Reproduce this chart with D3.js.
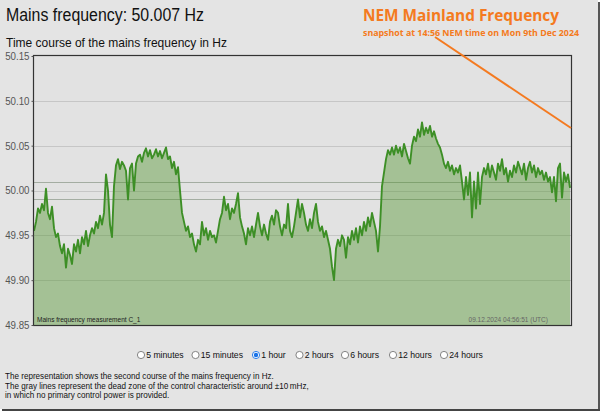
<!DOCTYPE html>
<html><head><meta charset="utf-8">
<script src="https://cdn.jsdelivr.net/npm/d3@7"></script>
<style>
html,body{margin:0;padding:0;background:#fff;}
svg{display:block;}
</style></head>
<body>
<svg id="c" width="604" height="414"></svg>
<script>
// ---- data ----
const title = "Mains frequency: 50.007 Hz";
const subtitle = "Time course of the mains frequency in Hz";
const yTicks = [49.85, 49.90, 49.95, 50.00, 50.05, 50.10, 50.15];
const deadZone = [49.99, 50.01];
const seriesLabel = "Mains frequency measurement C_1";
const timeStamp = "09.12.2024 04:56:51 (UTC)";
const periods = ["5 minutes", "15 minutes", "1 hour", "2 hours", "6 hours", "12 hours", "24 hours"];
const selectedPeriod = "1 hour";
const notes = [
  "The representation shows the second course of the mains frequency in Hz.",
  "The gray lines represent the dead zone of the control characteristic around \u00b110\u2009mHz,",
  "in which no primary control power is provided."
];
const annoTitle = "NEM Mainland Frequency";
const annoSub = "snapshot at 14:56 NEM time on Mon 9th Dec 2024";
const frequency = [
49.955,49.965,49.980,49.975,49.985,49.978,50.002,49.975,49.968,49.982,
49.958,49.948,49.952,49.938,49.930,49.940,49.914,49.935,49.928,49.918,
49.940,49.932,49.945,49.930,49.948,49.940,49.955,49.938,49.950,49.958,
49.952,49.965,49.958,49.972,49.962,49.975,50.018,50.000,49.962,49.948,
50.005,50.028,50.035,50.024,50.032,50.028,50.022,49.990,50.025,50.030,
50.000,50.030,50.038,50.040,50.032,50.042,50.047,50.038,50.045,50.036,
50.040,50.046,50.038,50.044,50.036,50.042,50.048,50.035,50.038,50.025,
50.032,50.018,50.026,50.000,49.975,49.965,49.955,49.960,49.948,49.952,
49.940,49.932,49.945,49.940,49.965,49.950,49.958,49.945,49.955,49.948,
49.950,49.942,49.955,49.968,49.975,49.993,49.978,49.985,49.968,49.980,
49.975,49.985,49.997,49.970,49.960,49.952,49.940,49.958,49.950,49.960,
49.948,49.962,49.975,49.960,49.950,49.962,49.952,49.945,49.965,49.972,
49.962,49.978,49.975,49.960,49.950,49.962,49.958,49.985,49.955,49.948,
49.960,49.975,49.990,49.970,49.985,49.975,49.962,49.955,49.968,49.958,
49.975,49.985,49.965,49.955,49.960,49.948,49.955,49.945,49.935,49.915,
49.900,49.935,49.945,49.938,49.950,49.945,49.925,49.948,49.940,49.955,
49.945,49.958,49.942,49.960,49.950,49.965,49.955,49.970,49.960,49.975,
49.965,49.955,49.932,49.960,50.005,50.020,50.035,50.045,50.040,50.048,
50.040,50.050,50.042,50.048,50.038,50.052,50.044,50.036,50.030,50.050,
50.060,50.055,50.068,50.060,50.076,50.062,50.070,50.064,50.072,50.060,
50.066,50.058,50.052,50.048,50.040,50.030,50.025,50.032,50.022,50.028,
50.018,50.025,50.020,50.028,50.010,49.990,50.015,49.995,50.020,49.970,
50.010,49.980,50.020,49.985,50.015,50.025,50.018,50.030,50.015,50.028,
50.020,50.012,50.030,50.022,50.035,50.018,50.025,50.010,50.022,50.015,
50.028,50.020,50.032,50.025,50.018,50.030,50.012,50.025,50.032,50.020,
50.028,50.015,50.025,50.018,50.022,50.012,50.020,50.010,50.015,49.998,
50.015,49.988,50.025,50.030,49.992,50.020,50.010,50.018,50.003
];

// ---- drawing ----
const svg = d3.select("#c");
const W = 604, H = 414;
const plot = {l: 34, r: 571, t: 56, b: 325};
const FONT = "Liberation Sans, Arial, sans-serif";

function squeeze(sel, k) {
  sel.each(function () {
    const w = this.getComputedTextLength();
    d3.select(this).attr("textLength", w * k).attr("lengthAdjust", "spacingAndGlyphs");
  });
  return sel;
}

// page background with frame shadow
svg.append("rect").attr("x",0).attr("y",0).attr("width",W).attr("height",H).attr("fill","#ffffff");
svg.append("rect").attr("x",0).attr("y",0).attr("width",598).attr("height",409).attr("fill","#e4e4e4");
svg.append("rect").attr("x",598).attr("y",2).attr("width",2).attr("height",409).attr("fill","#555");
svg.append("rect").attr("x",2).attr("y",409).attr("width",598).attr("height",2).attr("fill","#444");

svg.append("text").attr("x",6).attr("y",21).attr("font-family",FONT)
  .attr("font-size",17.5).attr("fill","#111")
  .attr("textLength",198).attr("lengthAdjust","spacingAndGlyphs").text(title);
svg.append("text").attr("x",6).attr("y",46.5).attr("font-family",FONT)
  .attr("font-size",12.8).attr("fill","#111")
  .attr("textLength",221).attr("lengthAdjust","spacingAndGlyphs").text(subtitle);

const x = d3.scaleLinear().domain([0, frequency.length - 1]).range([plot.l, plot.r - 1]);
const y = d3.scaleLinear().domain([49.85, 50.15]).range([plot.b, plot.t]);

// plot background
svg.append("rect").attr("x",plot.l).attr("y",plot.t).attr("width",plot.r-plot.l).attr("height",plot.b-plot.t)
  .attr("fill","#e2e2e2");

// grid
const grid = svg.append("g");
grid.selectAll("line.g").data(yTicks.slice(1,-1)).join("line")
  .attr("x1",plot.l).attr("x2",plot.r).attr("y1",d=>Math.round(y(d))+0.5).attr("y2",d=>Math.round(y(d))+0.5)
  .attr("stroke","#c6c6c6").attr("stroke-width",1);
grid.selectAll("line.d").data(deadZone).join("line")
  .attr("x1",plot.l).attr("x2",plot.r).attr("y1",d=>Math.round(y(d))+0.5).attr("y2",d=>Math.round(y(d))+0.5)
  .attr("stroke","#a4ada2").attr("stroke-width",1.2);

// area + line
const area = d3.area().x((d,i)=>x(i)).y0(y(49.85)).y1(d=>y(d));
const line = d3.line().x((d,i)=>x(i)).y(d=>y(d));
svg.append("path").datum(frequency).attr("d",area).attr("fill","rgba(78,148,42,0.42)");
svg.append("path").datum(frequency).attr("d",line).attr("fill","none")
  .attr("stroke","#3d8f26").attr("stroke-width",1.9).attr("stroke-linejoin","round");

// frame
svg.append("rect").attr("x",plot.l-0.5).attr("y",plot.t-0.5).attr("width",plot.r-plot.l+1).attr("height",plot.b-plot.t+1)
  .attr("fill","none").attr("stroke","#333").attr("stroke-width",1.2);

// y axis
const yAxis = d3.axisLeft(y).tickValues(yTicks).tickFormat(d3.format(".2f")).tickSize(2).tickPadding(2);
const ya = svg.append("g").attr("transform",`translate(${plot.l-0.5},0)`).call(yAxis);
ya.select(".domain").remove();
ya.selectAll("line").attr("stroke","#555");
squeeze(ya.selectAll("text").attr("font-family",FONT).attr("font-size",10.8).attr("fill","#555"), 0.9);

// inner labels
squeeze(svg.append("text").attr("x",37).attr("y",322).attr("font-family",FONT)
  .attr("font-size",7.5).attr("fill","#222").text(seriesLabel), 0.87);
squeeze(svg.append("text").attr("x",548).attr("y",322).attr("text-anchor","end").attr("font-family",FONT)
  .attr("font-size",7.5).attr("fill","#666").text(timeStamp), 0.87);

// radio buttons
const radioX = [141, 195.5, 256, 299.5, 345, 393, 444];
const rg = svg.append("g").selectAll("g").data(periods).join("g")
  .attr("transform",(d,i)=>`translate(${radioX[i]},355)`);
rg.append("circle").attr("r",3.6).attr("fill","#fff").attr("stroke","#777").attr("stroke-width",0.9);
rg.filter(d=>d===selectedPeriod).select("circle").attr("stroke","#1a73e8").attr("fill","#fff");
rg.filter(d=>d===selectedPeriod).append("circle").attr("r",2.2).attr("fill","#1a73e8");
squeeze(rg.append("text").attr("x",5.2).attr("y",3.4).attr("font-family",FONT)
  .attr("font-size",9.5).attr("fill","#111").text(d=>d), 0.91);

// notes
squeeze(svg.append("g").selectAll("text").data(notes).join("text")
  .attr("x",5).attr("y",(d,i)=>379+i*9.5).attr("font-family",FONT)
  .attr("font-size",9).attr("fill","#111").text(d=>d), 0.9);

// annotation
const orange = "#f47a20";
svg.append("line").attr("x1",435).attr("y1",37).attr("x2",571).attr("y2",128)
  .attr("stroke",orange).attr("stroke-width",2);
svg.append("text").attr("x",363).attr("y",21).attr("font-family","Open Sans, DejaVu Sans, sans-serif")
  .attr("font-weight","bold").attr("font-size",16).attr("fill",orange)
  .attr("textLength",196).attr("lengthAdjust","spacingAndGlyphs").text(annoTitle);
svg.append("text").attr("x",363).attr("y",35.5).attr("font-family","Open Sans, DejaVu Sans, sans-serif")
  .attr("font-weight","bold").attr("font-size",9).attr("fill",orange)
  .attr("textLength",216).attr("lengthAdjust","spacingAndGlyphs").text(annoSub);
</script>
</body></html>
